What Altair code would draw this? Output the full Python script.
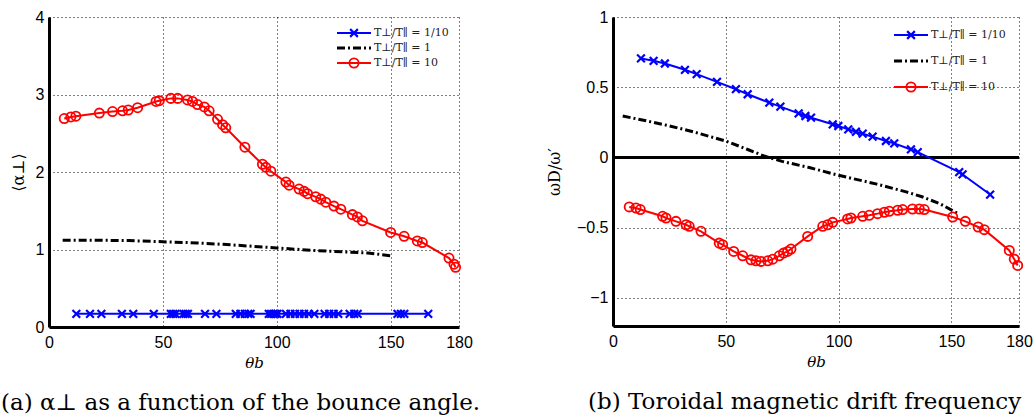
import altair as alt
import pandas as pd

# ---------------- Panel (a): <alpha_perp> vs theta_b ----------------
a_blue_x = [12, 18, 23, 32, 37, 46, 53.5, 54.5, 55.5, 59, 60, 61, 68.5, 73.5,
            82, 84, 86, 87.5, 88.5, 96.5, 97.5, 98.5, 99.5, 100.3, 104, 106,
            108, 110, 112, 114, 116.5, 121, 123, 125, 127, 132, 134, 135.5,
            153, 154.5, 156, 166.5]
a_blue_y = [0.17, 0.17, 0.17, 0.17, 0.17, 0.17, 0.17, 0.17, 0.17, 0.17, 0.17,
            0.17, 0.17, 0.17, 0.17, 0.17, 0.17, 0.17, 0.17, 0.17, 0.17, 0.17,
            0.17, 0.17, 0.17, 0.17, 0.17, 0.17, 0.17, 0.17, 0.17, 0.17, 0.17,
            0.17, 0.17, 0.17, 0.17, 0.17, 0.17, 0.17, 0.17, 0.17]

a_black_x = [6, 20, 35, 50, 65, 80, 100, 115, 125, 140, 151]
a_black_y = [1.12, 1.12, 1.115, 1.10, 1.085, 1.06, 1.02, 0.99, 0.975, 0.955, 0.916]

a_red_x = [6.7, 9.6, 11.8, 22.1, 27.9, 32.3, 34.8, 38.9, 47, 48.4, 53.5, 56.5,
           60.8, 63, 65.2, 68.2, 70.3, 74, 76.2, 77.6, 86, 93.7, 95.2, 97.4,
           104, 105.4, 109.8, 112, 113.5, 117.1, 119.3, 121.5, 125.1, 128.1,
           133.2, 135.4, 137.6, 150, 155.9, 161.7, 163.9, 175.6, 177.8, 178.5]
a_red_y = [2.69, 2.71, 2.72, 2.76, 2.78, 2.79, 2.80, 2.83, 2.91, 2.92, 2.95, 2.95,
           2.93, 2.91, 2.87, 2.84, 2.79, 2.68, 2.61, 2.57, 2.32, 2.10, 2.06, 2.01,
           1.87, 1.83, 1.78, 1.75, 1.72, 1.68, 1.65, 1.61, 1.56, 1.52,
           1.45, 1.42, 1.37, 1.22, 1.17, 1.11, 1.09, 0.89, 0.81, 0.77]

# ---------------- Panel (b): omega_D / omega' vs theta_b ----------------
b_blue_x = [12.4, 18.0, 23.0, 31.9, 37.1, 46.1, 54.5, 59.7, 69.3, 74.2, 82.3,
            85.3, 87.8, 97.4, 99.9, 104.3, 107.7, 110.7, 115.1, 121, 124.7,
            132.1, 135.1, 153.5, 155, 167.2]
b_blue_y = [0.705, 0.688, 0.669, 0.624, 0.593, 0.538, 0.486, 0.45, 0.39, 0.362,
            0.314, 0.295, 0.283, 0.236, 0.224, 0.2, 0.183, 0.169, 0.148, 0.117,
            0.1, 0.057, 0.038, -0.105, -0.121, -0.264]

b_black_x = [4.3, 15, 25, 35, 50, 60, 67, 75, 87, 100, 117, 130, 137, 145, 153]
b_black_y = [0.295, 0.26, 0.225, 0.185, 0.117, 0.055, 0.01, -0.028, -0.072,
             -0.127, -0.19, -0.245, -0.28, -0.33, -0.40]

b_red_x = [7.2, 10.2, 12.1, 22, 23.5, 27.9, 32.4, 33.8, 39, 47.1, 48.6, 53.5,
           57.5, 61.2, 63.4, 65.6, 68.6, 70.8, 73.7, 75.6, 77.4, 78.9, 86.3,
           93, 95.2, 97.4, 104, 105.5, 110.7, 113.6, 117.3, 120.3, 122.5,
           126.2, 128.4, 132.8, 135.8, 138, 150.6, 156.2, 161.9, 164.6,
           175.7, 177.9, 179.4]
b_red_y = [-0.352, -0.36, -0.371, -0.419, -0.431, -0.455, -0.479, -0.49, -0.526,
           -0.61, -0.621, -0.669, -0.7, -0.729, -0.736, -0.74, -0.736, -0.724,
           -0.7, -0.681, -0.669, -0.652, -0.562, -0.49, -0.479, -0.462, -0.438,
           -0.431, -0.419, -0.412, -0.4, -0.39, -0.383, -0.376, -0.371, -0.367,
           -0.367, -0.371, -0.424, -0.455, -0.495, -0.514, -0.662, -0.724,
           -0.769]

legend_labels = ["T\u22a5/T\u2225 = 1/10", "T\u22a5/T\u2225 = 1", "T\u22a5/T\u2225 = 10"]
x_ticks = [0, 50, 100, 150, 180]

BLUE = "#0000ff"
RED = "#ff0000"
BLACK = "#000000"
XSHAPE = "M-1,-1L1,1M-1,1L1,-1"
DASHDOT = [8, 3, 2, 3]
SANS = "Liberation Sans"
SERIF = "DejaVu Serif"
CIRCLE_SIZE = 85
X_SIZE = 60


def x_axis():
    return alt.Axis(values=x_ticks, title="\u03b8b", grid=True, gridDash=[1, 3],
                    gridColor="#000000", gridOpacity=1, gridWidth=1,
                    domainWidth=3, domainColor="black", ticks=False,
                    labelFlush=False, labelOverlap=False,
                    labelFont=SANS, labelFontSize=16, labelColor="black",
                    labelPadding=7, titleFont=SERIF, titleFontStyle="italic",
                    titleFontSize=15, titleFontWeight="normal", titleColor="black",
                    titlePadding=5)


def y_axis(values, title, fmt, tpad):
    return alt.Axis(values=values, title=title, format=fmt, grid=True,
                    gridDash=[1, 3], gridColor="#000000", gridOpacity=1,
                    gridWidth=1, domainWidth=3, domainColor="black", ticks=False,
                    labelFont=SANS, labelFontSize=16, labelColor="black",
                    labelPadding=5, titleFont=SERIF, titleFontSize=16,
                    titleFontWeight="normal", titleColor="black",
                    titlePadding=tpad)


def series(xs, ys, xscale, yscale, xax, yax, color, width, dash=None,
           shape=None, size=None, sw=None):
    df = pd.DataFrame({"x": xs, "y": ys})
    base = alt.Chart(df).encode(
        x=alt.X("x:Q", scale=xscale, axis=xax),
        y=alt.Y("y:Q", scale=yscale, axis=yax),
    )
    kw = dict(color=color, strokeWidth=width)
    if dash is not None:
        kw["strokeDash"] = dash
    layers = [base.mark_line(**kw)]
    if shape is not None:
        layers.append(base.mark_point(shape=shape, filled=False, color=color,
                                      size=size, strokeWidth=sw, opacity=1))
    return layers


def legend(x1, x2, xm, xt, ys, fs):
    specs = [(BLUE, None, XSHAPE, X_SIZE, 2.2, 2.2),
             (BLACK, DASHDOT, None, None, None, 3),
             (RED, None, "circle", CIRCLE_SIZE, 1.8, 2.0)]
    out = []
    for label, (col, dash, shape, size, sw, lw), yy in zip(legend_labels, specs, ys):
        base = alt.Chart(pd.DataFrame({"t": [label]}))
        kw = dict(color=col, strokeWidth=lw)
        if dash is not None:
            kw["strokeDash"] = dash
        out.append(base.mark_rule(**kw).encode(
            x=alt.value(x1), x2=alt.value(x2), y=alt.value(yy)))
        if shape is not None:
            out.append(base.mark_point(shape=shape, filled=False, color=col,
                                       size=size, strokeWidth=sw, opacity=1).encode(
                x=alt.value(xm), y=alt.value(yy)))
        out.append(base.mark_text(align="left", baseline="middle", font=SERIF,
                                  fontSize=fs, color="#222222").encode(
            x=alt.value(xt), y=alt.value(yy), text="t:N"))
    return out


# ---- left panel ----
xs_a = alt.Scale(domain=[0, 180], nice=False, zero=False)
ys_a = alt.Scale(domain=[0, 4], nice=False)
xa = x_axis()
ya = y_axis([0, 1, 2, 3, 4], "\u27e8\u03b1\u22a5\u27e9", "d", 9)

left_layers = []
left_layers += series(a_black_x, a_black_y, xs_a, ys_a, xa, ya, BLACK, 3, dash=DASHDOT)
left_layers += series(a_blue_x, a_blue_y, xs_a, ys_a, xa, ya, BLUE, 2,
                      shape=XSHAPE, size=X_SIZE, sw=2.2)
left_layers += series(a_red_x, a_red_y, xs_a, ys_a, xa, ya, RED, 2,
                      shape="circle", size=CIRCLE_SIZE, sw=1.8)
left_layers += legend(288, 322, 305, 325, [16, 31, 46], 11)

left = alt.layer(*left_layers).properties(
    width=410, height=310,
    title=alt.TitleParams(text="(a) \u03b1\u22a5 as a function of the bounce angle.",
                          orient="bottom", anchor="start", dx=-48, offset=22,
                          font=SERIF, fontSize=23, fontWeight="normal",
                          color="black", frame="group"))

# ---- right panel ----
xs_b = alt.Scale(domain=[0, 180], nice=False, zero=False)
ys_b = alt.Scale(domain=[-1.2, 1], nice=False, zero=False)
xb = x_axis()
yb = y_axis([-1, -0.5, 0, 0.5, 1], "\u03c9D/\u03c9\u2032", "~g", 14)

zero_line = alt.Chart(pd.DataFrame({"y": [0]})).mark_rule(
    color="black", strokeWidth=3).encode(y=alt.Y("y:Q", scale=ys_b, axis=yb))

right_layers = [zero_line]
right_layers += series(b_black_x, b_black_y, xs_b, ys_b, xb, yb, BLACK, 3, dash=DASHDOT)
right_layers += series(b_blue_x, b_blue_y, xs_b, ys_b, xb, yb, BLUE, 2,
                       shape=XSHAPE, size=X_SIZE, sw=2.2)
right_layers += series(b_red_x, b_red_y, xs_b, ys_b, xb, yb, RED, 2,
                       shape="circle", size=CIRCLE_SIZE, sw=1.8)
right_layers += legend(281, 315, 298, 318, [18, 44, 70], 11)

right = alt.layer(*right_layers).properties(
    width=406, height=309,
    title=alt.TitleParams(text="(b) Toroidal magnetic drift frequency",
                          orient="bottom", anchor="start", dx=-25, offset=22,
                          font=SERIF, fontSize=23, fontWeight="normal",
                          color="black", frame="group"))

chart = alt.hconcat(left, right, spacing=154, bounds="flush").properties(
    padding={"left": 0, "top": 8, "right": 0, "bottom": 0},
    background="white",
).configure_view(stroke="transparent")

chart.save("out.html", embed_options={"renderer": "svg", "actions": False})
